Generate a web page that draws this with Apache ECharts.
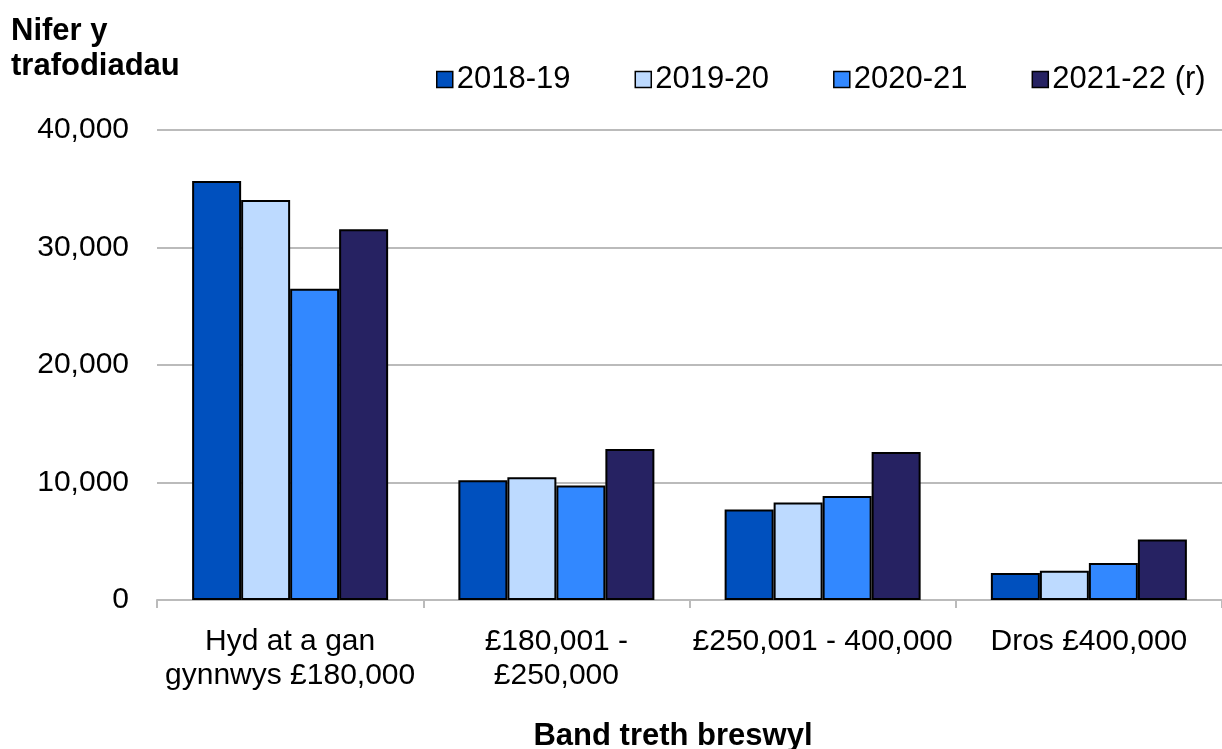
<!DOCTYPE html>
<html>
<head>
<meta charset="utf-8">
<script src="https://cdn.jsdelivr.net/npm/echarts@6/dist/echarts.min.js"></script>
<style>
html,body{margin:0;padding:0;background:#fff;}
#main{width:1222px;height:749px;}
</style>
</head>
<body>
<div id="main"></div>
<script>
const categories = ['Hyd at a gan\ngynnwys £180,000', '£180,001 -\n£250,000', '£250,001 - 400,000', 'Dros £400,000'];
const seriesNames = ['2018-19', '2019-20', '2020-21', '2021-22 (r)'];
const s2018 = [35650, 10200, 7700, 2300];
const s2019 = [34050, 10450, 8300, 2500];
const s2020 = [26500, 9750, 8850, 3150];
const s2021 = [31550, 12850, 12600, 5150];
const colors = ['#0050BE', '#BDDAFF', '#3288FF', '#262262'];
const yTicks = [0, 10000, 20000, 30000, 40000];

const FONT = '"Liberation Sans", Arial, sans-serif';
const chart = echarts.init(document.getElementById('main'), null, {renderer: 'canvas'});
const data = [s2018, s2019, s2020, s2021];
chart.setOption({
  animation: false,
  textStyle: {fontFamily: FONT},
  title: [
    {text: 'Nifer y\ntrafodiadau', left: 11, top: 14, padding: 0,
     textStyle: {fontFamily: FONT, fontSize: 31, fontWeight: 'bold', color: '#000', lineHeight: 35}},
    {text: 'Band treth breswyl', left: 673, top: 721, textAlign: 'center', padding: 0,
     textStyle: {fontFamily: FONT, fontSize: 31, fontWeight: 'bold', color: '#000'}}
  ],
  legend: {
    data: seriesNames,
    left: 436, top: 64, padding: 0,
    itemWidth: 16, itemHeight: 16, itemGap: 64,
    icon: 'rect',
    textStyle: {fontFamily: FONT, fontSize: 31, color: '#000', padding: [0,0,0,-1]},
    itemStyle: {borderColor: '#000', borderWidth: 1.5}
  },
  grid: {left: 157, right: 0, top: 130, bottom: 149, containLabel: false},
  xAxis: {
    type: 'category',
    data: categories,
    axisLine: {lineStyle: {color: '#BBBBBB', width: 2}},
    axisTick: {show: true, length: 8, lineStyle: {color: '#BBBBBB', width: 2}},
    axisLabel: {fontFamily: FONT, fontSize: 30, color: '#000', lineHeight: 34, margin: 25, interval: 0}
  },
  yAxis: {
    type: 'value',
    min: 0, max: 40000, interval: 10000,
    axisLine: {show: false},
    axisTick: {show: false},
    splitLine: {lineStyle: {color: '#BBBBBB', width: 2}},
    axisLabel: {fontFamily: FONT, fontSize: 30, color: '#000', margin: 28,
      formatter: v => yTicks.includes(v) ? v.toLocaleString('en-US') : ''}
  },
  series: seriesNames.map((n, i) => ({
    name: n,
    type: 'bar',
    data: data[i],
    barWidth: 49,
    barGap: '0%',
    itemStyle: {color: colors[i], borderColor: '#000', borderWidth: 2}
  }))
});
</script>
</body>
</html>
